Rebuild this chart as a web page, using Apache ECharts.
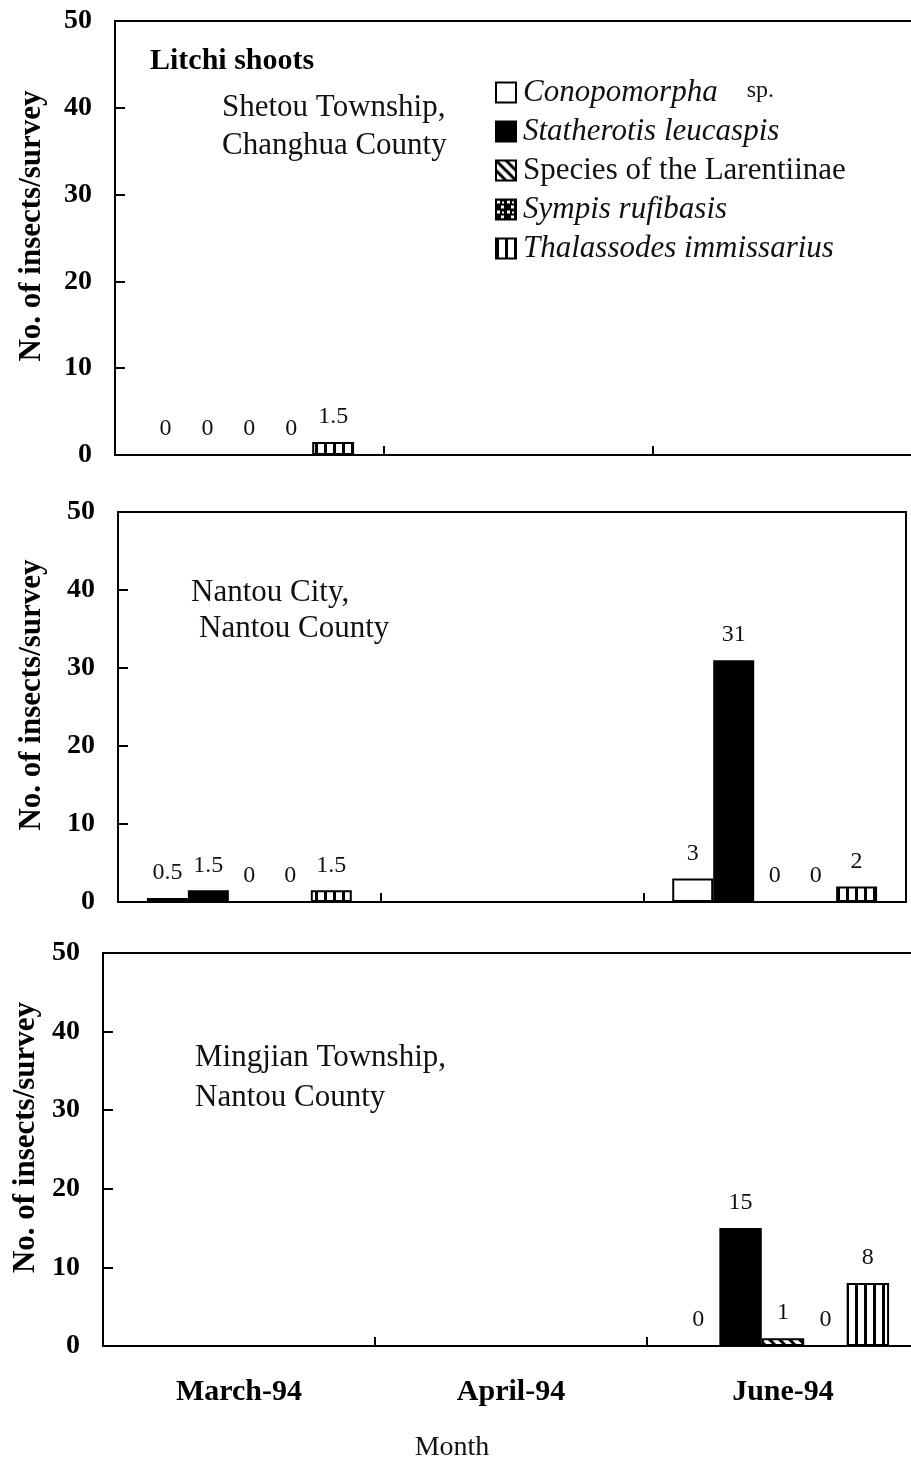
<!DOCTYPE html>
<html>
<head>
<meta charset="utf-8">
<title>Litchi shoots</title>
<script src="https://cdn.jsdelivr.net/npm/echarts@6/dist/echarts.min.js"></script>
<style>
  html, body { margin: 0; padding: 0; background: #fff; overflow: hidden; }
  #chart { width: 930px; height: 1463px; }
</style>
</head>
<body>
<div id="chart"></div>
<script>
// months on the x axis
const months = ['March-94', 'April-94', 'June-94'];
const species = ['Conopomorpha sp.', 'Statherotis leucaspis', 'Species of the Larentiinae', 'Sympis rufibasis', 'Thalassodes immissarius'];
const yTicks = [0, 10, 20, 30, 40, 50];

// counts per species (rows follow species order), one value per month
const shetouCounts = [
  [0, null, null],
  [0, null, null],
  [0, null, null],
  [0, null, null],
  [1.5, null, null]
];
const nantouCityCounts = [
  [0.5, null, 3],
  [1.5, null, 31],
  [0, null, 0],
  [0, null, 0],
  [1.5, null, 2]
];
const mingjianCounts = [
  [null, null, 0],
  [null, null, 15],
  [null, null, 1],
  [null, null, 0],
  [null, null, 8]
];

const FONT = "'Liberation Serif', 'Times New Roman', serif";

// fill patterns for the bars / legend
function makePattern(kind) {
  const c = document.createElement('canvas');
  const ctx = c.getContext('2d');
  if (kind === 'diag') {
    c.width = 10; c.height = 10;
    ctx.fillStyle = '#fff'; ctx.fillRect(0, 0, 10, 10);
    ctx.strokeStyle = '#000'; ctx.lineWidth = 3;
    ctx.beginPath();
    ctx.moveTo(-5, -5); ctx.lineTo(15, 15);
    ctx.moveTo(-5, 5); ctx.lineTo(5, 15);
    ctx.moveTo(5, -5); ctx.lineTo(15, 5);
    ctx.stroke();
  } else if (kind === 'checker') {
    c.width = 10; c.height = 10;
    ctx.fillStyle = '#000'; ctx.fillRect(0, 0, 10, 10);
    ctx.fillStyle = '#fff';
    ctx.fillRect(1, 1, 3, 3);
    ctx.fillRect(6, 2, 2, 2);
    ctx.fillRect(5, 6, 3, 3);
  } else {
    c.width = 9; c.height = 10;
    ctx.fillStyle = '#fff'; ctx.fillRect(0, 0, 9, 10);
    ctx.fillStyle = '#000'; ctx.fillRect(0, 0, 3, 10);
  }
  return { image: c, repeat: 'repeat' };
}

const fills = ['#fff', '#000', makePattern('diag'), makePattern('checker'), makePattern('vstripe')];

const chart = echarts.init(document.getElementById('chart'), null, { renderer: 'canvas' });

const grids = [
  { left: 115, top: 21, width: 806, height: 434 },
  { left: 118, top: 512, width: 788, height: 390 },
  { left: 103, top: 953, width: 816, height: 393 }
].map(g => Object.assign({
  show: true, borderColor: '#000', borderWidth: 2, backgroundColor: 'transparent',
  containLabel: false, outerBoundsMode: 'none'
}, g));

const nameGaps = [68, 71, 62];

const xAxes = [0, 1, 2].map(i => ({
  type: 'category',
  gridIndex: i,
  data: months,
  axisLine: { lineStyle: { color: '#000', width: 2 } },
  axisTick: { show: true, inside: true, length: 9, interval: 0, lineStyle: { color: '#000', width: 2 } },
  axisLabel: {
    show: i === 2,
    margin: 31,
    color: '#000',
    fontFamily: FONT,
    fontWeight: 'bold',
    fontSize: 30
  }
}));

const yAxes = [0, 1, 2].map(i => ({
  type: 'value',
  gridIndex: i,
  min: yTicks[0],
  max: yTicks[yTicks.length - 1],
  interval: 10,
  name: 'No. of insects/survey',
  nameLocation: 'middle',
  nameRotate: 90,
  nameGap: nameGaps[i],
  nameTextStyle: { color: '#000', fontFamily: FONT, fontWeight: 'bold', fontSize: 31, padding: [0, 0, 0, 24] },
  axisLine: { show: true, lineStyle: { color: '#000', width: 2 } },
  axisTick: { show: true, inside: true, length: 10, lineStyle: { color: '#000', width: 2 } },
  splitLine: { show: false },
  axisLabel: { margin: 23, color: '#000', fontFamily: FONT, fontWeight: 'bold', fontSize: 28 }
}));

const series = [];
[shetouCounts, nantouCityCounts, mingjianCounts].forEach((site, gi) => {
  site.forEach((vals, si) => {
    series.push({
      name: species[si],
      type: 'bar',
      xAxisIndex: gi,
      yAxisIndex: gi,
      data: vals,
      barGap: '0%',
      barCategoryGap: '22%',
      itemStyle: { color: fills[si], borderColor: '#000', borderWidth: 2 },
      label: {
        show: true,
        position: 'top',
        distance: 13,
        color: '#111',
        fontFamily: FONT,
        fontSize: 24
      },
      emphasis: { disabled: true }
    });
  });
});

const txt = (text, left, top, extra) => ({
  text: text,
  left: left,
  top: top,
  padding: 0,
  textStyle: Object.assign({ color: '#111', fontFamily: FONT, fontSize: 31, fontWeight: 'normal', lineHeight: 31 }, extra || {})
});

chart.setOption({
  animation: false,
  backgroundColor: '#fff',
  title: [
    txt('Litchi shoots', 150, 46, { fontWeight: 'bold', fontSize: 30, lineHeight: 30, color: '#000' }),
    txt('Shetou Township,', 222, 92),
    txt('Changhua County', 222, 130),
    txt('Nantou City,', 191, 577),
    txt('Nantou County', 199, 613),
    txt('Mingjian Township,', 195, 1042),
    txt('Nantou County', 195, 1082),
    Object.assign(txt('Month', 452, 1434, { fontSize: 28, lineHeight: 28 }), { textAlign: 'center' })
  ],
  legend: {
    orient: 'vertical',
    left: 495,
    top: 77,
    padding: 0,
    itemWidth: 20,
    itemHeight: 20,
    itemGap: 8,
    icon: 'rect',
    selectedMode: false,
    data: species,
    itemStyle: { borderColor: '#000', borderWidth: 2 },
    formatter: function (name) {
      if (name === 'Conopomorpha sp.') return '{i|Conopomorpha}{s|sp.}';
      if (name === 'Species of the Larentiinae') return '{n|' + name + '}';
      return '{i|' + name + '}';
    },
    textStyle: {
      color: '#111',
      fontFamily: FONT,
      fontSize: 31,
      lineHeight: 31,
      padding: [0, 0, 0, 2],
      rich: {
        i: { fontFamily: FONT, fontSize: 31, fontStyle: 'italic', color: '#111', lineHeight: 31 },
        n: { fontFamily: FONT, fontSize: 31, color: '#111', lineHeight: 31 },
        s: { fontFamily: FONT, fontSize: 24, color: '#111', lineHeight: 31, padding: [0, 0, 3, 29] }
      }
    }
  },
  grid: grids,
  xAxis: xAxes,
  yAxis: yAxes,
  series: series
});
</script>
</body>
</html>
